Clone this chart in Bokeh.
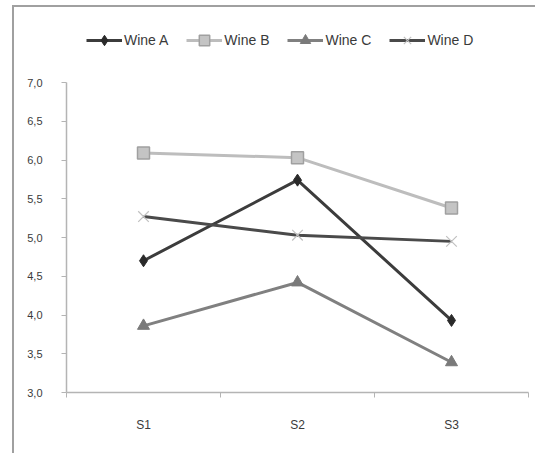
from bokeh.plotting import figure
from bokeh.models import Range1d, FixedTicker, Legend, LegendItem
from bokeh.embed import file_html
from bokeh.resources import INLINE

categories = ["S1", "S2", "S3"]
wine_a = [4.70, 5.74, 3.93]
wine_b = [6.09, 6.03, 5.38]
wine_c = [3.86, 4.42, 3.39]
wine_d = [5.27, 5.03, 4.95]
y_ticks = [3.0, 3.5, 4.0, 4.5, 5.0, 5.5, 6.0, 6.5, 7.0]

xs = [i + 0.5 for i in range(len(categories))]

W, H = 523, 448
# frame extends above the 7,0 tick so the legend can sit inside it
y_top = 7 + 65 / 77.5
p = figure(width=W, height=H, output_backend="svg", toolbar_location=None,
           x_range=Range1d(0, len(categories)), y_range=Range1d(3, y_top),
           min_border_left=52, min_border_right=9, min_border_top=10, min_border_bottom=63)
p.styles = {"margin-left": "12px", "margin-top": "5px",
            "border-left": "2px solid #a0a0a0", "border-top": "2px solid #a0a0a0"}
p.outline_line_color = None
p.xgrid.grid_line_color = None
p.ygrid.grid_line_color = None
p.background_fill_color = "white"
p.border_fill_color = "white"

font = "Liberation Sans"
# y axis
p.yaxis.ticker = FixedTicker(ticks=y_ticks)
p.yaxis.bounds = (y_ticks[0], y_ticks[-1])
p.yaxis.major_label_overrides = {t: f"{t:.1f}".replace(".", ",") for t in y_ticks}
p.yaxis.axis_line_color = "#b4b4b4"
p.yaxis.axis_line_width = 1.5
p.yaxis.major_tick_line_color = "#b4b4b4"
p.yaxis.major_tick_out = 5
p.yaxis.major_tick_in = 0
p.yaxis.minor_tick_line_color = None
p.yaxis.major_label_standoff = 19
p.yaxis.major_label_text_font = font
p.yaxis.major_label_text_font_size = "11px"
p.yaxis.major_label_text_color = "#3a3a3a"

# x axis
p.xaxis.ticker = FixedTicker(ticks=xs, minor_ticks=list(range(len(categories) + 1)))
p.xaxis.major_label_overrides = {x: c for x, c in zip(xs, categories)}
p.xaxis.axis_line_color = "#b4b4b4"
p.xaxis.axis_line_width = 1.5
p.xaxis.major_tick_line_color = None
p.xaxis.minor_tick_line_color = "#b4b4b4"
p.xaxis.minor_tick_out = 5
p.xaxis.minor_tick_in = 0
p.xaxis.major_label_standoff = 19
p.xaxis.major_label_text_font = font
p.xaxis.major_label_text_font_size = "12px"
p.xaxis.major_label_text_color = "#3a3a3a"

items = []
la = p.line(xs, wine_a, line_color="#3c3c3c", line_width=3)
ma = p.scatter(xs, wine_a, marker="diamond", size=12, fill_color="#2a2a2a", line_color="#2a2a2a")
items.append(LegendItem(label="Wine A", renderers=[la, ma]))

lb = p.line(xs, wine_b, line_color="#bdbdbd", line_width=3)
mb = p.scatter(xs, wine_b, marker="square", size=12, fill_color="#c4c4c4", line_color="#a0a0a0", line_width=1.5)
items.append(LegendItem(label="Wine B", renderers=[lb, mb]))

lc = p.line(xs, wine_c, line_color="#808080", line_width=3)
mc = p.scatter(xs, wine_c, marker="triangle", size=12, fill_color="#7a7a7a", line_color="#7a7a7a")
items.append(LegendItem(label="Wine C", renderers=[lc, mc]))

ld = p.line(xs, wine_d, line_color="#4a4a4a", line_width=3)
md = p.scatter(xs, wine_d, marker="x", size=15, line_color="#c0c0c0", line_width=1.2)
items.append(LegendItem(label="Wine D", renderers=[ld, md]))

legend = Legend(items=items, orientation="horizontal", location=(20, 339),
                glyph_width=36, glyph_height=26, label_standoff=2, spacing=18,
                padding=0, margin=0, border_line_color=None, background_fill_alpha=0,
                label_text_font=font, label_text_font_size="14px", label_text_color="#3a3a3a")
p.add_layout(legend, "center")

open("out.html", "w").write(file_html(p, INLINE))
